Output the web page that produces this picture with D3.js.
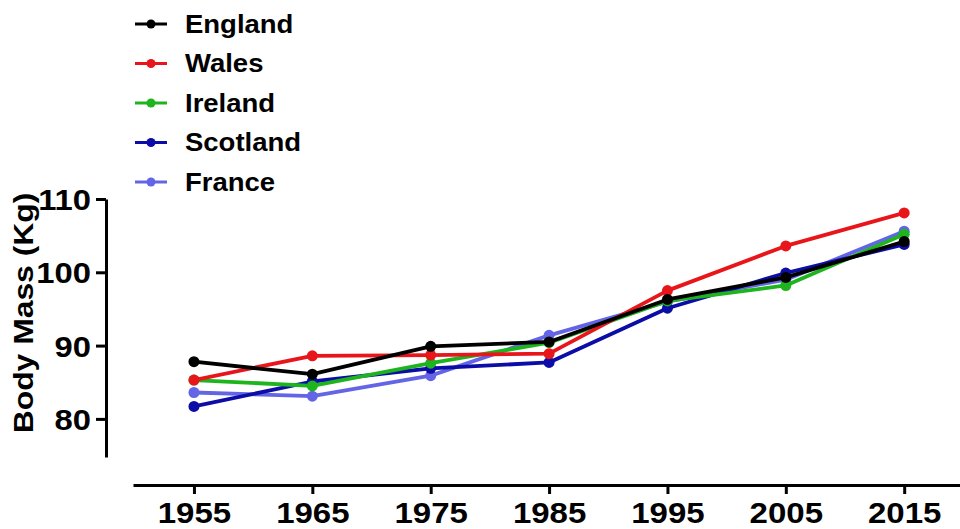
<!DOCTYPE html>
<html>
<head>
<meta charset="utf-8">
<script src="https://cdn.jsdelivr.net/npm/d3@7"></script>
<style>
  html, body { margin: 0; padding: 0; background: #fff; }
  svg { display: block; font-family: "Liberation Sans", Arial, Helvetica, sans-serif; font-weight: bold; }
</style>
</head>
<body>
<svg id="chart" width="960" height="529"></svg>
<script>
const years = [1955, 1965, 1975, 1985, 1995, 2005, 2015];
const seriesNames = ["England", "Wales", "Ireland", "Scotland", "France"];
const seriesColors = ["#000000", "#e8161b", "#1eb41e", "#0c0ca6", "#6464e6"];
const england  = [87.8, 86.1, 89.9, 90.5, 96.3, 99.3, 104.2];
const wales    = [85.3, 88.6, 88.7, 88.9, 97.5, 103.6, 108.1];
const ireland  = [85.3, 84.5, 87.6, 90.4, 96.1, 98.2, 105.2];
const scotland = [81.7, 85.1, 86.9, 87.7, 95.1, 99.9, 103.8];
const france   = [83.6, 83.1, 85.9, 91.4, 96.0, 99.0, 105.6];
const yTicks = [80, 90, 100, 110];
const yLabel = "Body Mass (Kg)";

const seriesValues = [england, wales, ireland, scotland, france];
const series = seriesNames.map((name, i) => ({
  name, color: seriesColors[i],
  points: years.map((yr, j) => ({ year: yr, value: seriesValues[i][j] }))
}));

const SX = 1.1; // horizontal stretch of the reference lettering
const svg = d3.select("#chart");

const x = d3.scaleLinear().domain([1949.85, 2019.8]).range([133, 961]);
const y = d3.scaleLinear().domain([74.8, 110]).range([457, 199]);

// Y axis
const yAxis = svg.append("g")
  .attr("transform", "translate(106,0)")
  .call(d3.axisLeft(y).tickValues(yTicks).tickSize(10).tickSizeOuter(0).tickPadding(5));
yAxis.select(".domain").attr("stroke", "#000").attr("stroke-width", 3);
yAxis.selectAll(".tick line").attr("stroke", "#000").attr("stroke-width", 3);
yAxis.selectAll(".tick text").attr("fill", "#000").attr("font-size", 29).attr("font-weight", "bold")
  .attr("font-family", "Liberation Sans, Arial, sans-serif").attr("dy", "0.36em")
  .attr("x", -15 / 1.13).attr("transform", "scale(1.13,1)");

// X axis
const xAxis = svg.append("g")
  .attr("transform", "translate(0,485)")
  .call(d3.axisBottom(x).tickValues(years).tickFormat(d3.format("d")).tickSize(9).tickSizeOuter(0).tickPadding(8));
xAxis.select(".domain").attr("stroke", "#000").attr("stroke-width", 3);
xAxis.selectAll(".tick line").attr("stroke", "#000").attr("stroke-width", 3);
xAxis.selectAll(".tick text").attr("fill", "#000").attr("font-size", 30).attr("font-weight", "bold")
  .attr("font-family", "Liberation Sans, Arial, sans-serif").attr("transform", `scale(${SX},1)`);

// Y label
svg.append("text")
  .attr("transform", `translate(33,${(y(110) + y(74.8)) / 2 - 15}) rotate(-90) scale(1.18,1)`)
  .attr("text-anchor", "middle")
  .attr("font-size", 27)
  .attr("fill", "#000")
  .text(yLabel);

// Lines (draw in reverse legend order so England is on top)
const line = d3.line().x(d => x(d.year)).y(d => y(d.value));
const drawOrder = series.slice().reverse();
const g = svg.append("g");
drawOrder.forEach(s => {
  g.append("path")
    .datum(s.points)
    .attr("fill", "none")
    .attr("stroke", s.color)
    .attr("stroke-width", 3.8)
    .attr("stroke-linejoin", "round")
    .attr("d", line);
  g.selectAll(null)
    .data(s.points)
    .enter().append("circle")
    .attr("cx", d => x(d.year))
    .attr("cy", d => y(d.value))
    .attr("r", 5.5)
    .attr("fill", s.color);
});

// Legend
const legend = svg.append("g").attr("transform", "translate(135,24)");
series.forEach((s, i) => {
  const row = legend.append("g").attr("transform", `translate(0,${i * 39.5})`);
  row.append("line").attr("x1", 0).attr("x2", 32).attr("y1", 0).attr("y2", 0)
    .attr("stroke", s.color).attr("stroke-width", 3);
  row.append("circle").attr("cx", 16).attr("cy", 0).attr("r", 4.5).attr("fill", s.color);
  row.append("text").attr("x", 50 / SX).attr("y", 0).attr("dy", "0.35em")
    .attr("transform", `scale(${SX},1)`)
    .attr("font-size", 25).attr("fill", "#000").text(s.name);
});
</script>
</body>
</html>
